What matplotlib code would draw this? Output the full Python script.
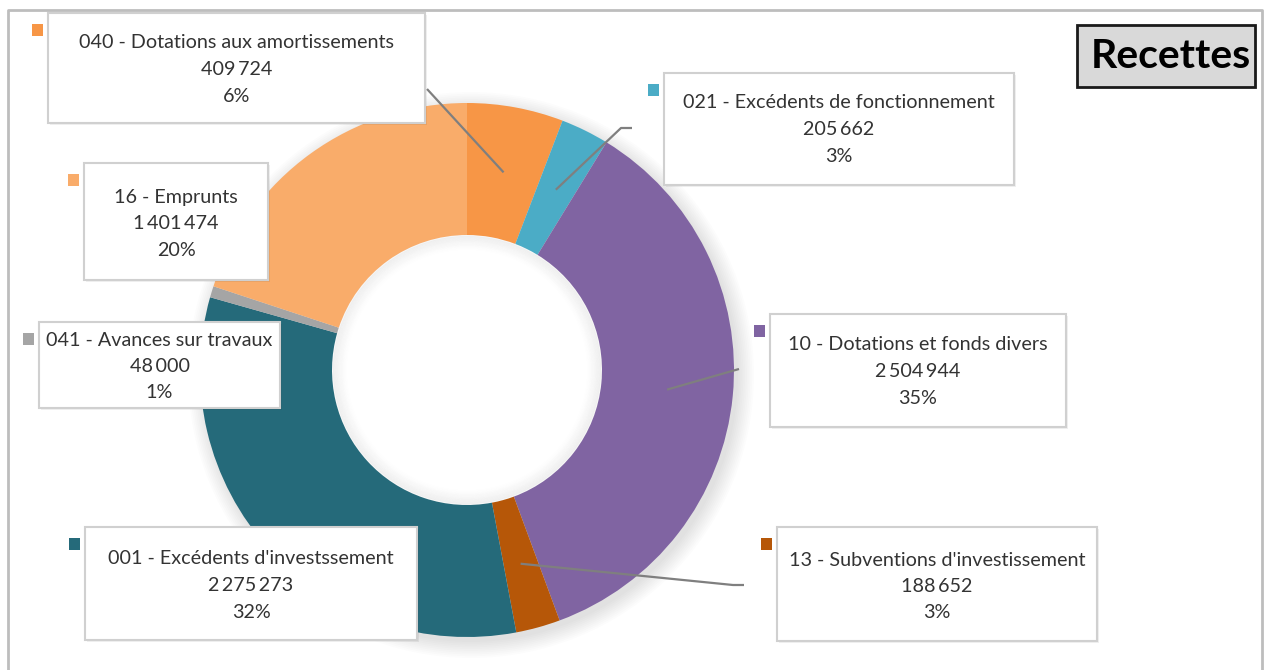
import matplotlib
matplotlib.use("Agg")
import matplotlib.pyplot as plt
from matplotlib.patches import Rectangle, Circle
import numpy as np

# ---------------- data ----------------
codes = ["040 - Dotations aux amortissements",
         "021 - Excédents de fonctionnement",
         "10 - Dotations et fonds divers",
         "13 - Subventions d'investissement",
         "001 - Excédents d'investssement",
         "041 - Avances sur travaux",
         "16 - Emprunts"]
values = [409724, 205662, 2504944, 188652, 2275273, 48000, 1401474]
percent_labels = ["6%", "3%", "35%", "3%", "32%", "1%", "20%"]
colors = ["#F79646", "#4BACC6", "#8064A2", "#B65708", "#256A7A", "#A5A5A5", "#F9AC6A"]
title = "Recettes"

# ---------------- layout (pixel coords, y from top) ----------------
W, H = 1267, 670
CX, CY = 467, 370
R_OUT, R_IN = 267, 135
# label boxes: (left, top, right, bottom, first line y)
boxes = [(48, 13, 425, 123, 43),
         (664, 73, 1014, 185, 103),
         (770, 314, 1066, 427, 345),
         (777, 527, 1097, 641, 560),
         (85, 527, 417, 640, 559),
         (39, 322, 280, 408, 340),
         (84, 163, 268, 280, 197)]
# leader line box-side points (None = no leader)
leaders = [[(427, 89)],
           [(621, 128), (632, 128)],
           [(739, 369)],
           [(733, 585), (744, 585)],
           None, None, None]

fig = plt.figure(figsize=(W / 100, H / 100), dpi=100)
ax = fig.add_axes([0, 0, 1, 1])

def py(y):
    return H - y

def fmt(v):
    return f"{v:,}".replace(",", "\u2009")

# soft outer shadow
for r in np.linspace(R_OUT + 16, R_OUT, 10):
    ax.add_patch(Circle((CX + 4, py(CY) - 5), r, facecolor="#000000",
                        alpha=0.012, edgecolor="none", zorder=1))
# keep the hole white
ax.add_patch(Circle((CX, py(CY)), R_IN + 2, facecolor="white",
                    edgecolor="none", zorder=1.5))

wedges, _ = ax.pie(values, colors=colors, radius=R_OUT, center=(CX, py(CY)),
                   startangle=90, counterclock=False,
                   wedgeprops=dict(width=R_OUT - R_IN, linewidth=0), frame=True)
for w in wedges:
    w.set_zorder(2)

# inner hole shading (soft inner edge)
hole_rings = np.linspace(R_IN - 1, R_IN - 14, 12)
for k, r in enumerate(hole_rings):
    ax.add_patch(Circle((CX, py(CY)), r, facecolor="none",
                        edgecolor=(0, 0, 0, 0.035 * (1 - k / len(hole_rings))),
                        lw=1.6, zorder=3))

# leader lines anchored at the middle of each wedge ring
total = sum(values)
cum = np.cumsum([0] + values)
r_mid = (R_OUT + R_IN) / 2
for i, pts in enumerate(leaders):
    if pts is None:
        continue
    frac = (cum[i] + values[i] / 2) / total
    ang = np.deg2rad(90 - 360 * frac)
    ax_pt = (CX + r_mid * np.cos(ang), py(CY) + r_mid * np.sin(ang))
    xs = [ax_pt[0]] + [p[0] for p in pts]
    ys = [ax_pt[1]] + [py(p[1]) for p in pts]
    ax.plot(xs, ys, color="#7F7F7F", lw=1.6, zorder=4, solid_capstyle="butt")

# label boxes
for i, (l, t, r, b, ly) in enumerate(boxes):
    ax.add_patch(Rectangle((l + 2, py(b) - 2), r - l, b - t, facecolor="#000000",
                           alpha=0.06, edgecolor="none", zorder=5))
    ax.add_patch(Rectangle((l, py(b)), r - l, b - t, facecolor="white",
                           edgecolor="#D0D0D0", lw=1.5, zorder=6))
    ax.add_patch(Rectangle((l - 16.5, py(t + 11) - 11.5), 11.5, 11.5,
                           facecolor=colors[i], edgecolor="none", zorder=6))
    cx = (l + r) / 2
    lines = [codes[i], fmt(values[i]), percent_labels[i]]
    for k, s in enumerate(lines):
        ax.text(cx, py(ly + 26.5 * k), s, ha="center", va="center",
                fontsize=14.2, family=["Lato", "DejaVu Sans"], color="#333333",
                zorder=7)

# title box
ax.add_patch(Rectangle((1077, py(87)), 1255 - 1077, 87 - 25, facecolor="#D9D9D9",
                       edgecolor="#1A1A1A", lw=2, zorder=6))
ax.text((1077 + 1255) / 2 + 5, py(57), title, ha="center", va="center",
        fontsize=29.5, fontweight="bold", family=["Lato", "DejaVu Sans"],
        color="#000000", zorder=7)

# outer frame
ax.plot([8, 8, 1262, 1262], [0, py(10), py(10), 0], color="#BDBDBD", lw=2, zorder=8)

ax.set_xlim(0, W)
ax.set_ylim(0, H)
ax.set_aspect("equal")
ax.axis("off")
fig.savefig("out.png", dpi=100, facecolor="white")
